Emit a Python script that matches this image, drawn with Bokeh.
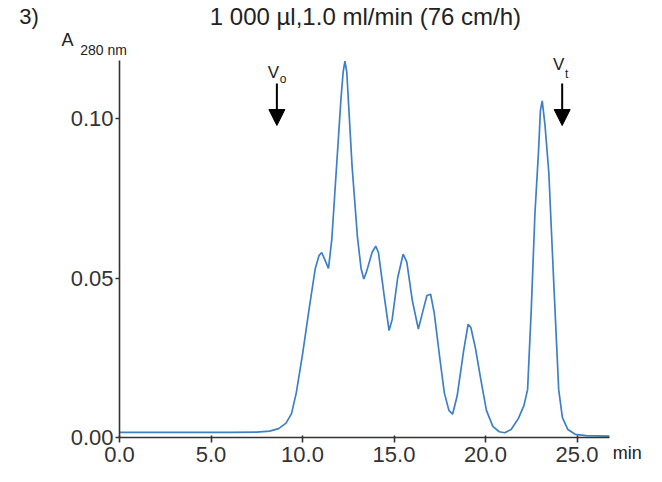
from bokeh.plotting import figure
from bokeh.models import Range1d, FixedTicker, NumeralTickFormatter, Label, Arrow, NormalHead, ColumnDataSource
from bokeh.embed import file_html
from bokeh.resources import INLINE

# ---- data ----
time_min = [0.0, 2.0, 4.0, 6.0, 7.5, 8.2, 8.7, 9.1, 9.4, 9.66, 10.0, 10.38, 10.7, 10.9,
            11.05, 11.2, 11.42, 11.6, 11.85, 12.1, 12.22, 12.32, 12.42, 12.71, 13.0, 13.2,
            13.35, 13.5, 13.8, 14.0, 14.15, 14.45, 14.73, 14.9, 15.2, 15.5, 15.7, 16.0,
            16.33, 16.55, 16.8, 17.0, 17.2, 17.5, 17.75, 18.0, 18.2, 18.45, 18.8, 19.05,
            19.2, 19.45, 19.75, 20.05, 20.4, 20.75, 21.05, 21.4, 21.8, 22.1, 22.3, 22.5,
            22.7, 22.9, 23.0, 23.1, 23.25, 23.46, 23.75, 24.0, 24.2, 24.5, 24.9, 25.5, 26.77]
absorbance = [0.0016, 0.0016, 0.0016, 0.0016, 0.0017, 0.0020, 0.0028, 0.0045, 0.0075, 0.014,
              0.026, 0.041, 0.053, 0.057, 0.058, 0.056, 0.053, 0.062, 0.084, 0.106, 0.1145,
              0.118, 0.1145, 0.085, 0.063, 0.053, 0.0497, 0.052, 0.058, 0.060, 0.058, 0.045,
              0.0335, 0.037, 0.050, 0.0575, 0.055, 0.043, 0.034, 0.039, 0.0445, 0.0449, 0.039,
              0.025, 0.014, 0.0085, 0.0073, 0.013, 0.027, 0.0355, 0.0345, 0.028, 0.018,
              0.0085, 0.0035, 0.0018, 0.0015, 0.0025, 0.0060, 0.010, 0.015, 0.040, 0.070,
              0.090, 0.1025, 0.1055, 0.098, 0.083, 0.046, 0.015, 0.0063, 0.0025, 0.0010,
              0.0006, 0.0004]
x_ticks = [0, 5, 10, 15, 20, 25]
y_ticks = [0.0, 0.05, 0.10]
x_axis_end = 26.77
y_axis_end = 0.1182
marker_letters = ["V", "V"]
marker_subscripts = ["o", "t"]
marker_times = [8.60, 24.19]

FONT = "Liberation Sans"
INK = "#222222"
W, H = 646, 466
X0, SX = 119, 18.3      # canvas x of t=0, px per minute
Y0, SY = 437, 3190      # canvas y of A=0, px per absorbance unit

# frame spans the whole canvas; axes are pinned at 0 with bounds
p = figure(width=W, height=H, output_backend="svg", toolbar_location=None,
           x_range=Range1d(-X0 / SX, (W - X0) / SX),
           y_range=Range1d(-(H - Y0) / SY, Y0 / SY),
           min_border=0)
p.outline_line_color = None
p.grid.visible = False
p.background_fill_color = "white"
p.border_fill_color = "white"

src = ColumnDataSource(dict(t=time_min, a=absorbance))
p.line("t", "a", source=src, line_color="#3d80c8", line_width=1.7)

for ax in (p.xaxis, p.yaxis):
    ax.fixed_location = 0
    ax.axis_line_color = "#333333"
    ax.axis_line_width = 1.6
    ax.major_tick_line_color = "#333333"
    ax.major_tick_line_width = 1.6
    ax.minor_tick_line_color = None
    ax.major_label_text_font = FONT
    ax.major_label_text_font_size = "22px"
    ax.major_label_text_color = "#333333"

p.xaxis.bounds = (0, x_axis_end)
p.xaxis.ticker = FixedTicker(ticks=x_ticks)
p.xaxis.formatter = NumeralTickFormatter(format="0.0")
p.xaxis.major_tick_in = 2
p.xaxis.major_tick_out = 5
p.xaxis.major_label_standoff = 4

p.yaxis.bounds = (0, y_axis_end)
p.yaxis.ticker = FixedTicker(ticks=y_ticks)
p.yaxis.formatter = NumeralTickFormatter(format="0.00")
p.yaxis.major_tick_in = 0
p.yaxis.major_tick_out = 4
p.yaxis.major_label_standoff = 2

def lab(x, y, text, size, align="left"):
    p.add_layout(Label(x=x, y=y, text=text, text_font=FONT, text_font_size=size,
                       text_color=INK, text_align=align, text_baseline="middle"))

lab(13.44, 0.13197, "1 000 µl,1.0 ml/min (76 cm/h)", "24px", "center")
lab(-5.484, 0.13197, "3)", "22px")
lab(-3.172, 0.1246, "A", "18px")
lab(-2.151, 0.12163, "280 nm", "14px")
lab(26.95, -0.0048, "min", "18px")

# void / total volume markers
for tm, letter, sub, ly, sy in zip(marker_times, marker_letters, marker_subscripts,
                                   [0.1144, 0.1169], [0.1125, 0.1138]):
    lab(tm - 0.5, ly, letter, "17px")
    lab(tm + 0.16, sy, sub, "12px")
    p.add_layout(Arrow(end=NormalHead(size=16, fill_color="black", line_color="black"),
                       x_start=tm, y_start=0.111, x_end=tm, y_end=0.0978,
                       line_width=2, line_color="black"))

open("out.html", "w").write(file_html(p, INLINE))
